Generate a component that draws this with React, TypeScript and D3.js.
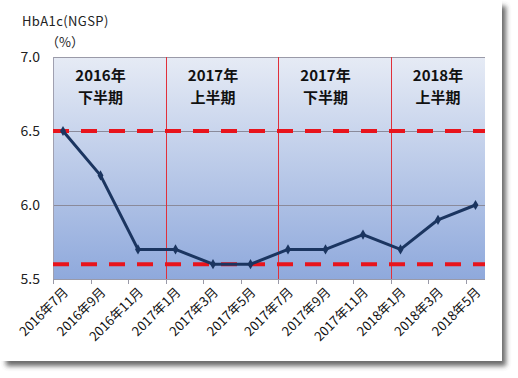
import React from "react";
import * as d3 from "d3";

const categories = ["2016年7月","2016年9月","2016年11月","2017年1月","2017年3月","2017年5月","2017年7月","2017年9月","2017年11月","2018年1月","2018年3月","2018年5月"];
const values = [6.5, 6.2, 5.7, 5.7, 5.6, 5.6, 5.7, 5.7, 5.8, 5.7, 5.9, 6.0];
const yTicks = [5.5, 6.0, 6.5, 7.0];
const refLines = [6.5, 5.6];
const periodLabels = [["2016年", "下半期"], ["2017年", "上半期"], ["2017年", "下半期"], ["2018年", "上半期"]];
const periodCenterIdx = [1, 4, 7, 10];
const periodBoundaryIdx = [3, 6, 9];

const W = 518, H = 378;
const left = 53, right = 485, top = 57, bottom = 279;
const font = "'Noto Sans CJK JP', 'Noto Sans', sans-serif";

export default function App() {
  const x = d3.scalePoint<string>().domain(categories).range([63, 63 + 37.5 * 11]);
  const y = d3.scaleLinear().domain([5.5, 7.0]).range([bottom, top]);
  const line = d3.line<number>().x((_, i) => x(categories[i])!).y(d => y(d));
  const tickX = (i: number) => Math.round(x(categories[i])! - 10) + 0.5;
  const diamond = d3.symbol().type(d3.symbolDiamond).size(30)();

  return (
    <svg width={W} height={H} style={{ position: "absolute", left: 0, top: 0 }}>
      <defs>
        <linearGradient id="bg" x1="0" y1="0" x2="0" y2="1">
          <stop offset="0%" stopColor="#e6ebf5" />
          <stop offset="100%" stopColor="#8fa9dc" />
        </linearGradient>
        <filter id="sh" x="-5%" y="-5%" width="115%" height="115%">
          <feGaussianBlur stdDeviation="2.5" />
        </filter>
      </defs>
      <rect x={6} y={6} width={500} height={360} fill="#444" filter="url(#sh)" opacity={0.8} />
      <rect x={0} y={0} width={502} height={361} fill="#fff" />
      <rect x={left} y={top} width={right - left} height={bottom - top} fill="url(#bg)" />
      {yTicks.filter(t => t > 5.5 && t < 7.0).map(t => (
        <line key={t} x1={left} x2={right} y1={Math.round(y(t)) + 0.5} y2={Math.round(y(t)) + 0.5} stroke="#8a8a9a" strokeWidth={1} />
      ))}
      <line x1={left} x2={right} y1={top + 0.5} y2={top + 0.5} stroke="#9a9aa8" strokeWidth={1} />
      <line x1={left + 0.5} x2={left + 0.5} y1={top} y2={bottom} stroke="#a0a0b0" strokeWidth={1} />
      {periodBoundaryIdx.map(i => (
        <line key={i} x1={tickX(i)} x2={tickX(i)} y1={top} y2={bottom} stroke="#e0303a" strokeWidth={1} />
      ))}
      {periodLabels.map((p, k) => (
        <text key={k} textAnchor="middle" fontFamily={font} fontWeight="bold" fontSize={15} fill="#111">
          <tspan x={x(categories[periodCenterIdx[k]])} y={81}>{p[0]}</tspan>
          <tspan x={x(categories[periodCenterIdx[k]])} y={103}>{p[1]}</tspan>
        </text>
      ))}
      {refLines.map(r => (
        <line key={r} x1={left} x2={right} y1={y(r)} y2={y(r)} stroke="#e8141c" strokeWidth={4} strokeDasharray="16,12" />
      ))}
      <line x1={left} x2={right} y1={bottom + 0.5} y2={bottom + 0.5} stroke="#9a9aa8" strokeWidth={1} />
      {categories.map((c, i) => (
        <line key={c} x1={tickX(i)} x2={tickX(i)} y1={bottom} y2={bottom + 5} stroke="#9a9aa8" strokeWidth={1} />
      ))}
      {categories.map((c, i) => (
        <text key={c} transform={`translate(${x(c)! + 6},${bottom + 14}) rotate(-45)`} textAnchor="end" fontFamily={font} fontSize={13} fill="#111">{c}</text>
      ))}
      {yTicks.map(t => (
        <text key={t} x={40} y={y(t) + 5} textAnchor="end" fontFamily={font} fontSize={14} fill="#222">{t.toFixed(1)}</text>
      ))}
      <text x={22} y={26} fontFamily={font} fontSize={13} fill="#222" letterSpacing={0.4}>HbA1c(NGSP)</text>
      <text x={46} y={47} fontFamily={font} fontSize={13} fill="#222">（%）</text>
      <path d={line(values)!} fill="none" stroke="#1b3560" strokeWidth={3} strokeLinejoin="round" />
      {values.map((v, i) => (
        <path key={i} d={diamond!} transform={`translate(${x(categories[i])},${y(v)})`} fill="#1b3560" />
      ))}
    </svg>
  );
}
